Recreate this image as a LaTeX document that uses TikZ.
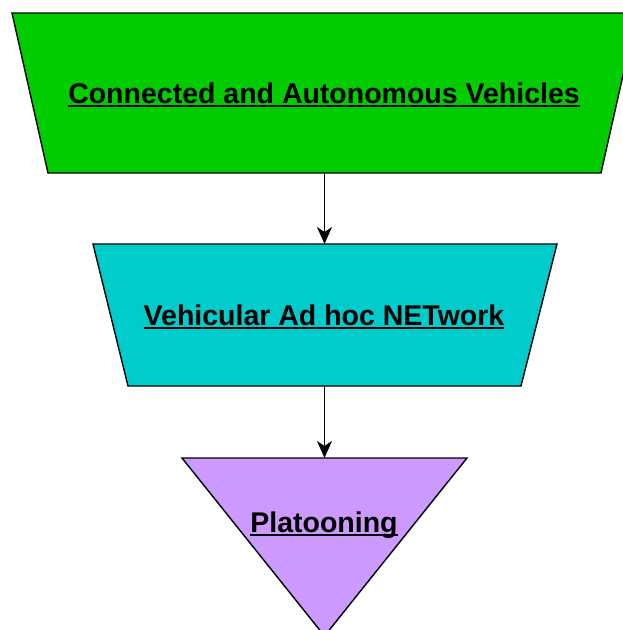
\documentclass[tikz,border=0pt]{standalone}
\usepackage{fontspec}
\setmainfont{Liberation Sans}
\usetikzlibrary{arrows.meta}
\definecolor{cavgreen}{RGB}{0,204,0}
\definecolor{vanetcyan}{RGB}{0,204,204}
\definecolor{platviolet}{RGB}{204,153,255}
% underline at a fixed depth below the baseline
\newcommand{\ulbl}[1]{\setbox0\hbox{#1}\rlap{\rule[-4pt]{\wd0}{2pt}}\box0}

\begin{document}
\begin{tikzpicture}[x=1pt,y=-1pt,line width=1.4pt,
  lbl/.style={font=\fontsize{28.5}{32}\selectfont\bfseries},
  arr/.style={-{Stealth[length=17pt,width=15pt,inset=5pt]}}]
\useasboundingbox (0,0) rectangle (622,630);
% three layers, widest on top
\draw [fill=cavgreen] (12,13) -- (637,13) -- (601,173) -- (48,173) -- cycle;
\draw [fill=vanetcyan] (93,244) -- (557,244) -- (521,386) -- (128,386) -- cycle;
\draw [fill=platviolet] (182,458) -- (467,458) -- (324.5,636) -- cycle;
\coordinate (cav-b) at (324.5,173);
\coordinate (vanet-t) at (324.5,244);
\coordinate (vanet-b) at (324.5,386);
\coordinate (plat-t) at (324.5,458);
\node [lbl] (cav) at (324,95) {\ulbl{Connected and Autonomous Vehicles}};
\node [lbl] (vanet) at (324,317) {\ulbl{Vehicular Ad hoc NETwork}};
\node [lbl] (plat) at (324,525) {\ulbl{Platooning}};
\draw [arr] (cav-b) -- (vanet-t);
\draw [arr] (vanet-b) -- (plat-t);
\end{tikzpicture}
\end{document}
